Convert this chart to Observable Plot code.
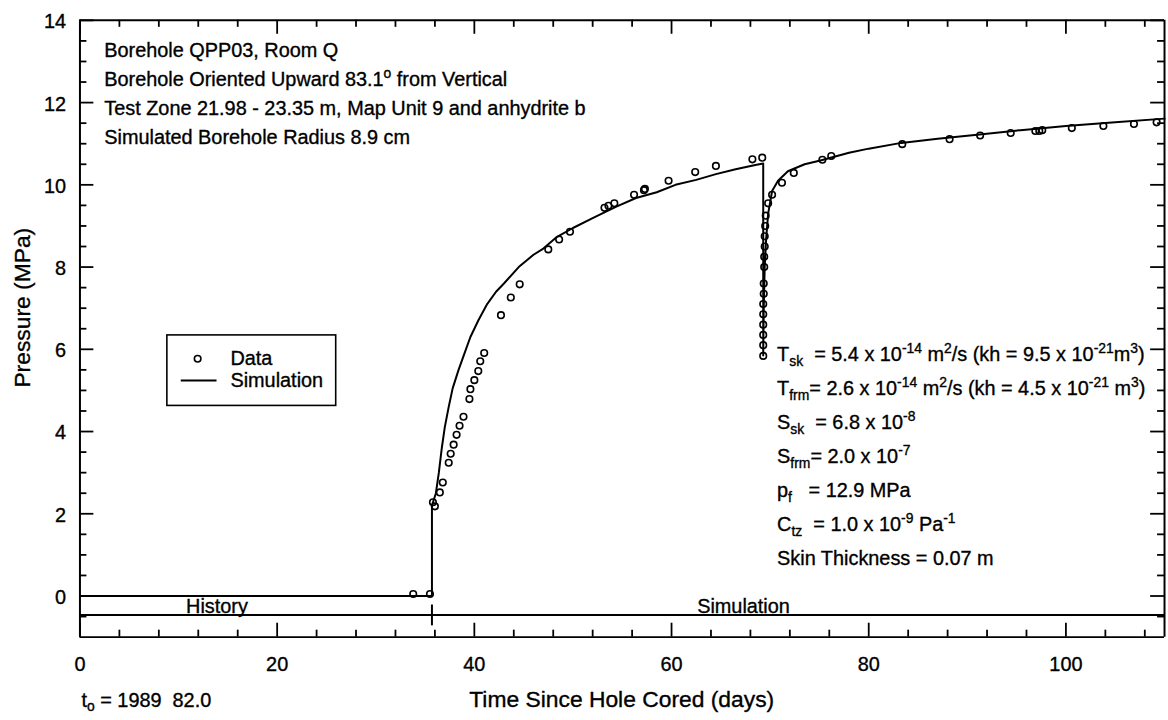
<!DOCTYPE html>
<html><head><meta charset="utf-8">
<script src="https://cdn.jsdelivr.net/npm/d3@7"></script>
<script src="https://cdn.jsdelivr.net/npm/@observablehq/plot@0.6"></script>
<style>
html,body{margin:0;padding:0;background:#fff;overflow:hidden;}
#chart svg{display:block;font-family:"Liberation Sans",Arial,sans-serif;}
#chart text{white-space:pre;stroke:#000;stroke-width:0.35px;}
</style></head><body><div id="chart"></div>
<script>
// ---- data ----
const obsT = [33.8,35.5,35.8,36.0,36.5,36.8,37.4,37.6,37.9,38.2,38.5,38.9,39.5,39.6,40.0,40.4,40.6,41.0,
  42.7,43.7,44.6,47.5,48.6,49.7,53.2,53.6,54.2,56.2,57.2,57.3,59.7,62.4,64.5,68.2,69.2,
  69.3,69.3,69.3,69.3,69.3,69.3,69.35,69.35,69.4,69.4,69.45,69.45,69.5,69.55,
  69.8,70.2,71.2,72.4,75.3,76.2,83.4,88.2,91.3,94.4,96.9,97.3,97.6,100.6,103.8,106.9,109.2];
const obsP = [0.05,0.05,2.28,2.18,2.52,2.76,3.24,3.46,3.68,3.92,4.14,4.36,4.79,5.03,5.25,5.47,5.71,5.91,
  6.83,7.26,7.58,8.43,8.67,8.86,9.44,9.49,9.55,9.76,9.87,9.9,10.1,10.31,10.46,10.62,10.66,
  5.84,6.1,6.35,6.6,6.85,7.1,7.35,7.6,8.0,8.25,8.5,8.75,9.0,9.25,
  9.55,9.76,10.05,10.29,10.61,10.7,10.99,11.11,11.2,11.26,11.31,11.31,11.33,11.38,11.43,11.48,11.52];
const simT = [0,35.7,35.7,36.1,36.4,36.7,37.0,37.4,37.8,38.4,39.0,39.6,40.4,41.3,42.2,43.0,44.5,46.0,47.0,48.3,50.0,52.1,54.4,56.4,58.5,60.4,62.5,64.5,66.5,68.5,69.3,
  69.3,69.35,69.45,69.6,69.8,70.2,70.8,71.8,73.5,75.2,78.0,80.0,83.3,87.0,91.0,95.4,100.0,105.0,110.0];
const simP = [0,0,2.2,2.5,3.0,3.6,4.1,4.6,5.05,5.5,5.9,6.3,6.7,7.1,7.4,7.6,8.0,8.3,8.45,8.72,8.95,9.2,9.47,9.68,9.82,10.0,10.12,10.26,10.38,10.48,10.52,
  5.85,7.0,8.0,8.7,9.3,9.85,10.1,10.33,10.5,10.6,10.78,10.88,11.02,11.12,11.22,11.33,11.43,11.52,11.61];
const xMajor = [0,20,40,60,80,100];
const xMinor = [4,8,12,16,24,28,32,36,44,48,52,56,64,68,72,76,84,88,92,96,104,108];
const yMajor = [0,2,4,6,8,10,12,14];
const yMinor = [-0.5,0.5,1,1.5,2.5,3,3.5,4.5,5,5.5,6.5,7,7.5,8.5,9,9.5,10.5,11,11.5,12.5,13,13.5];
const xDomain = [0,110], yDomain = [-1,14];
const historyEnd = 35.7, bandLow = -0.46;
const bandLabels = [{t:13.9, s:"History"},{t:67.3, s:"Simulation"}];

const obs = obsT.map((t,i)=>({t, p:obsP[i]}));
const sim = simT.map((t,i)=>({t, p:simP[i]}));

const W = 1176, H = 720, mL = 80, mR = 4, mT = 20, mB = 79;
const uy = (yDomain[1]-yDomain[0])/(H-mT-mB);   // data units per px (y)
const ux = (xDomain[1]-xDomain[0])/(W-mL-mR);   // data units per px (x)
const majLen = 14, minLen = 7, tsw = 1.8;
const F = "Liberation Sans, Arial, sans-serif";

const plot = Plot.plot({
  width: W, height: H, marginLeft: mL, marginRight: mR, marginTop: mT, marginBottom: mB,
  x: {domain: xDomain, axis: null},
  y: {domain: yDomain, axis: null},
  style: {fontFamily: F, background: "#fff", color: "#000"},
  marks: [
    // frame
    Plot.ruleY([yDomain[0], yDomain[1]], {x1: xDomain[0], x2: xDomain[1], stroke: "#000", strokeWidth: 2}),
    Plot.ruleX([xDomain[0], xDomain[1]], {y1: yDomain[0], y2: yDomain[1], stroke: "#000", strokeWidth: 2}),
    // bottom / top ticks
    Plot.ruleX(xMajor, {y1: yDomain[0], y2: yDomain[0] + majLen*uy, stroke: "#000", strokeWidth: tsw}),
    Plot.ruleX(xMinor, {y1: yDomain[0], y2: yDomain[0] + minLen*uy, stroke: "#000", strokeWidth: tsw}),
    Plot.ruleX(xMajor, {y1: yDomain[1], y2: yDomain[1] - majLen*uy, stroke: "#000", strokeWidth: tsw}),
    Plot.ruleX(xMinor, {y1: yDomain[1], y2: yDomain[1] - minLen*uy, stroke: "#000", strokeWidth: tsw}),
    // left / right ticks
    Plot.ruleY(yMajor, {x1: xDomain[0], x2: xDomain[0] + majLen*ux, stroke: "#000", strokeWidth: tsw}),
    Plot.ruleY(yMinor, {x1: xDomain[0], x2: xDomain[0] + minLen*ux, stroke: "#000", strokeWidth: tsw}),
    Plot.ruleY(yMajor, {x1: xDomain[1], x2: xDomain[1] - majLen*ux, stroke: "#000", strokeWidth: tsw}),
    Plot.ruleY(yMinor, {x1: xDomain[1], x2: xDomain[1] - minLen*ux, stroke: "#000", strokeWidth: tsw}),
    // tick labels
    Plot.text(xMajor, {x: d=>d, y: yDomain[0], dy: 34, text: d=>String(d), fontSize: 20, lineAnchor: "bottom", fill: "#000"}),
    Plot.text(yMajor, {x: xDomain[0], y: d=>d, dx: -14, dy: 8, text: d=>String(d), fontSize: 20, textAnchor: "end", lineAnchor: "bottom", fill: "#000"}),
    // history / simulation band
    Plot.ruleY([bandLow], {x1: xDomain[0], x2: xDomain[1], stroke: "#000", strokeWidth: 2}),
    Plot.ruleX([historyEnd], {y1: bandLow + 10*uy, y2: bandLow - 11*uy, stroke: "#000", strokeWidth: 2}),
    Plot.text(bandLabels, {x: "t", y: 0, dy: 17, text: "s", fontSize: 20, lineAnchor: "bottom", fill: "#000"}),
    // series
    Plot.line(sim, {x: "t", y: "p", stroke: "#000", strokeWidth: 2}),
    Plot.dot(obs, {x: "t", y: "p", r: 3.3, stroke: "#000", strokeWidth: 1.6, fill: "none"})
  ]
});
document.getElementById("chart").appendChild(plot);

// ---- rich annotations positioned via the plot's scales ----
const X = v => plot.scale("x").apply(v), Y = v => plot.scale("y").apply(v);
const svg = d3.select(plot);
const g = svg.append("g").attr("font-family", F).attr("fill", "#000");
function rich(x, y, parts, size=20, anchor="start", sub=5) {
  const t = g.append("text").attr("x", x).attr("y", y).attr("font-size", size).attr("text-anchor", anchor)
    .attr("xml:space", "preserve");
  let off = 0;
  for (const p of parts) {
    const [s, k] = typeof p === "string" ? [p, "n"] : p;
    const target = k === "sub" ? sub : k === "sup" ? -8 : 0;
    t.append("tspan").attr("dy", target - off).attr("font-size", k === "n" ? size : 14).text(s);
    off = target;
  }
  return t;
}
// titles
rich(X(55), Y(-1) + 71, ["Time Since Hole Cored (days)"], 23, "middle");
g.append("text").attr("transform", `translate(${X(0)-50},${Y(7)}) rotate(-90)`).attr("text-anchor","middle")
  .attr("font-size", 23).text("Pressure (MPa)");
rich(X(0)+2, Y(-1)+71, ["t", ["o","sub"], " = 1989  82.0"], 20, "start", 4);

// top-left notes
const notes = [
  ["Borehole QPP03, Room Q"],
  ["Borehole Oriented Upward 83.1", ["o","sup"], " from Vertical"],
  ["Test Zone 21.98 - 23.35 m, Map Unit 9 and anhydrite b"],
  ["Simulated Borehole Radius 8.9 cm"]
];
notes.forEach((n,i) => rich(X(0)+25, Y(14)+37 + i*29.2, n, 20));

// parameters
const params = [
  ["T", ["sk","sub"], "  = 5.4 x 10", ["-14","sup"], " m", ["2","sup"], "/s (kh = 9.5 x 10", ["-21","sup"], "m", ["3","sup"], ")"],
  ["T", ["frm","sub"], "= 2.6 x 10", ["-14","sup"], " m", ["2","sup"], "/s (kh = 4.5 x 10", ["-21","sup"], " m", ["3","sup"], ")"],
  ["S", ["sk","sub"], "  = 6.8 x 10", ["-8","sup"]],
  ["S", ["frm","sub"], "= 2.0 x 10", ["-7","sup"]],
  ["p", ["f","sub"], "   = 12.9 MPa"],
  ["C", ["tz","sub"], "  = 1.0 x 10", ["-9","sup"], " Pa", ["-1","sup"]],
  ["Skin Thickness = 0.07 m"]
];
params.forEach((p,i) => rich(X(historyEnd) + 348, Y(6) + 12 + i*34.3, p, 20));

// legend
const lx = X(0) + 88, ly = Y(6) - 14;
g.append("rect").attr("x", lx).attr("y", ly).attr("width", 170).attr("height", 71)
  .attr("fill", "none").attr("stroke", "#000").attr("stroke-width", 1.6);
g.append("circle").attr("cx", lx+31).attr("cy", ly+24).attr("r", 3.3).attr("fill","none").attr("stroke","#000").attr("stroke-width",1.6);
g.append("line").attr("x1", lx+14).attr("x2", lx+50).attr("y1", ly+46).attr("y2", ly+46).attr("stroke","#000").attr("stroke-width",2);
rich(lx+64, ly+30, ["Data"], 20);
rich(lx+64, ly+52, ["Simulation"], 20);
</script></body></html>
